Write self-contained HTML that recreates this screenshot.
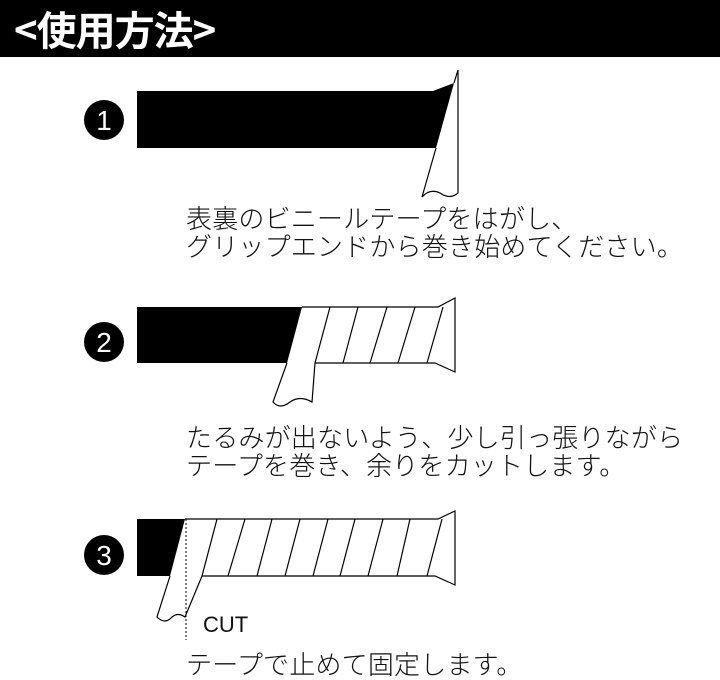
<!DOCTYPE html>
<html><head><meta charset="utf-8"><style>
body{margin:0;width:720px;height:680px;background:#fff;overflow:hidden;position:relative;font-family:"Liberation Sans","Noto Sans CJK JP",sans-serif}
.hd{position:absolute;left:0;top:0;width:720px;height:57px;background:#000}
.ht{position:absolute;left:14px;top:3px;color:#fff;font-size:40px;font-weight:bold;font-family:"Noto Sans CJK JP",sans-serif;letter-spacing:-1px;line-height:50px}
.t{position:absolute;left:186px;font-size:26px;line-height:28px;color:#111;font-family:"Liberation Sans","Noto Sans CJK JP",sans-serif;font-weight:300;white-space:nowrap;letter-spacing:0.2px}
</style></head><body>
<div class="hd"></div>
<div class="ht">&lt;使用方法&gt;</div>
<svg width="720" height="680" style="position:absolute;left:0;top:0" fill="none" stroke="#000" stroke-width="1.2">
<g stroke="none" fill="#000">
<circle cx="104" cy="120" r="20"/><circle cx="104" cy="342" r="20"/><circle cx="104" cy="555" r="20"/>
</g>
<g fill="#fff" stroke="none" font-family="Liberation Sans,sans-serif" font-size="28" text-anchor="middle">
<text x="104" y="130">1</text><text x="104" y="352">2</text><text x="104" y="565">3</text>
</g>
<polygon points="137,91 433,91 454,83 436,148 137,148" fill="#000" stroke="none"/>
<path d="M454,83 L458,70 L458,193 Q450,200 440,193 Q430,188 422,197 L436,148"/>
<polygon points="137,307 302,307 287,363 137,363" fill="#000" stroke="none"/>
<path d="M302,307 L438,307 L455,298 L455,372 L435,363 L315,363"/>
<path d="M287,363 L273,402 Q280,410 290,402 Q300,395 312,402 L315,363 L330,307"/>
<path d="M358,307 L343,363 M387,307 L370,363 M415,307 L398,363 M443,307 L427,363"/>
<polygon points="137,519 185,519 170,576 137,576" fill="#000" stroke="none"/>
<path d="M185,519 L438,519 L455,511 L455,585 L435,576 L202,576"/>
<path d="M170,576 L157,617 Q165,625 172,617 Q178,612 185,617 L202,576 L217,519"/>
<path d="M245,519 L228,576 M272,519 L257,576 M300,519 L285,576 M328,519 L313,576 M355,519 L340,576 M383,519 L368,576 M410,519 L397,576 M442,519 L427,576"/>
<line x1="186" y1="519" x2="186" y2="640" stroke-dasharray="2,2" stroke-width="1"/>
<text x="203" y="632" font-family="Liberation Sans,sans-serif" font-size="22" fill="#111" stroke="none">CUT</text>
</svg>
<div class="t" style="top:205px">表裏のビニールテープをはがし、<br>グリップエンドから巻き始めてください。</div>
<div class="t" style="top:424px">たるみが出ないよう、少し引っ張りながら<br>テープを巻き、余りをカットします。</div>
<div class="t" style="top:651px">テープで止めて固定します。</div>
</body></html>
